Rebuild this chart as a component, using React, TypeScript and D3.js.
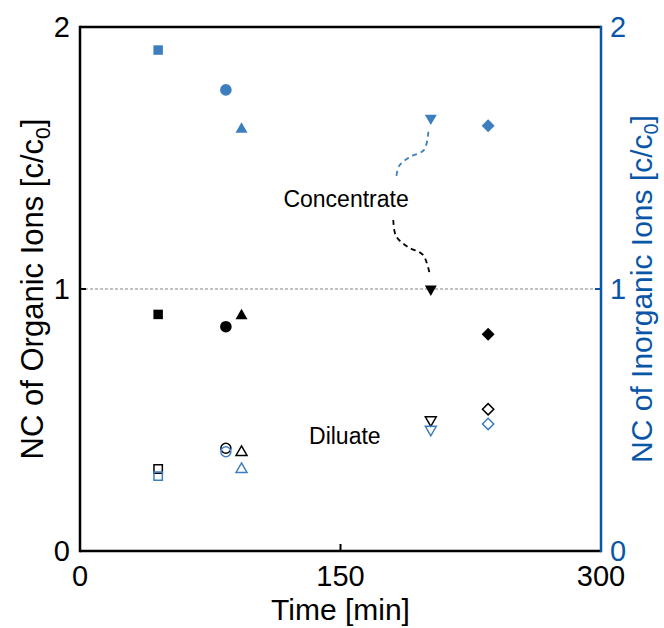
import React from 'react';
import * as d3 from 'd3';

// sampling times [min] and the marker used for each time
const times = [45, 84, 93, 202, 235];
const shapes = ['square', 'circle', 'triangleUp', 'triangleDown', 'diamond'];

// normalised concentrations c/c0
const concInorganic = [1.912, 1.76, 1.61, 1.652, 1.623];
const concOrganic = [0.903, 0.856, 0.898, 1.0, 0.827];
const dilOrganic = [0.313, 0.392, 0.377, 0.5, 0.541];
const dilInorganic = [0.286, 0.379, 0.312, 0.464, 0.485];

const xTicks = [0, 150, 300];
const yTicks = [0, 1, 2];

// annotation arrows, in data units [time, c/c0]
const blueArrow = [[200.6, 1.6], [198.1, 1.531], [190.0, 1.504], [183.7, 1.469], [182.0, 1.419]];
const blackArrow = [[180.4, 1.263], [182.0, 1.202], [188.9, 1.16], [197.5, 1.13], [201.5, 1.053]];

const FONT = '"Liberation Sans", Arial, Helvetica, sans-serif';
const BLUE = '#3d7ebf';
const AXIS_BLUE = '#0a56a6';

function symbolPath(shape: string, filled: boolean) {
  const s = filled
    ? { square: 90, circle: 106, triangleUp: 62, triangleDown: 62, diamond: 84 }
    : { square: 70, circle: 78, triangleUp: 52, triangleDown: 52, diamond: 64 };
  let type: any = d3.symbolSquare;
  if (shape === 'circle') type = d3.symbolCircle;
  if (shape === 'triangleUp' || shape === 'triangleDown') type = d3.symbolTriangle;
  return d3.symbol().type(type).size((s as any)[shape])() as string;
}

function rotation(shape: string) {
  if (shape === 'triangleDown') return 180;
  if (shape === 'diamond') return 45;
  return 0;
}

export default function App() {
  const margin = { top: 27, right: 63, bottom: 77, left: 80 };
  const width = 664;
  const height = 628;

  const x = d3.scaleLinear().domain([0, 300]).range([margin.left, width - margin.right]);
  const y = d3.scaleLinear().domain([0, 2]).range([height - margin.bottom, margin.top]);
  const yRight = d3.scaleLinear().domain([0, 2]).range([height - margin.bottom, margin.top]);

  const line = d3
    .line<number[]>()
    .x(d => x(d[0]))
    .y(d => y(d[1]))
    .curve(d3.curveCatmullRom);

  const x0 = x.range()[0];
  const x1 = x.range()[1];
  const y0 = y.range()[0];
  const y1 = y.range()[1];

  const markers = (values: number[], scale: any, color: string, filled: boolean, key: string) =>
    values.map((v, i) => (
      <path
        key={key + i}
        d={symbolPath(shapes[i], filled)}
        transform={'translate(' + x(times[i]) + ',' + scale(v) + ') rotate(' + rotation(shapes[i]) + ')'}
        fill={filled ? color : 'none'}
        stroke={color}
        strokeWidth={filled ? 0 : 1.5}
      />
    ));

  return (
    <svg width={width} height={height} style={{ position: 'absolute', left: 0, top: 0 }} fontFamily={FONT}>
      <rect width={width} height={height} fill="#fff" />

      {/* reference line at c/c0 = 1 */}
      <line x1={x0} x2={x1} y1={y(1)} y2={y(1)} stroke="#666" strokeWidth={0.8} strokeDasharray="3,2" />

      {/* annotation arrows */}
      <path d={line(blueArrow) as string} fill="none" stroke={BLUE} strokeWidth={1.8} strokeDasharray="5,4" />
      <path d={line(blackArrow) as string} fill="none" stroke="#000" strokeWidth={1.8} strokeDasharray="5,4" />

      <text x={x(153.2)} y={y(1.314)} fontSize={23} textAnchor="middle">Concentrate</text>
      <text x={x(152.5)} y={y(0.41)} fontSize={23} textAnchor="middle">Diluate</text>

      {markers(concInorganic, yRight, BLUE, true, 'ci')}
      {markers(concOrganic, y, '#000', true, 'co')}
      {markers(dilOrganic, y, '#000', false, 'do')}
      {markers(dilInorganic, yRight, BLUE, false, 'di')}

      {/* frame */}
      <line x1={x0} x2={x1} y1={y1} y2={y1} stroke="#000" strokeWidth={2.5} />
      <line x1={x0} x2={x1} y1={y0} y2={y0} stroke="#000" strokeWidth={2.5} />
      <line x1={x0} x2={x0} y1={y1 - 1.25} y2={y0 + 1.25} stroke="#000" strokeWidth={2.5} />
      <line x1={x1} x2={x1} y1={y1 - 1.25} y2={y0 + 1.25} stroke={AXIS_BLUE} strokeWidth={2.5} />

      {/* ticks */}
      {xTicks.slice(1, -1).map(t => (
        <line key={'xt' + t} x1={x(t)} x2={x(t)} y1={y0} y2={y0 - 7} stroke="#000" strokeWidth={2} />
      ))}
      {yTicks.slice(1, -1).map(t => (
        <g key={'yt' + t}>
          <line x1={x0} x2={x0 + 6} y1={y(t)} y2={y(t)} stroke="#000" strokeWidth={2} />
          <line x1={x1} x2={x1 - 6} y1={yRight(t)} y2={yRight(t)} stroke={AXIS_BLUE} strokeWidth={2} />
        </g>
      ))}

      {/* tick labels */}
      {xTicks.map(t => (
        <text key={'xl' + t} x={x(t)} y={y0 + 35} fontSize={29} textAnchor="middle">{t}</text>
      ))}
      {yTicks.map(t => (
        <text key={'yl' + t} x={x0 - 10} y={y(t)} dy="0.36em" fontSize={29} textAnchor="end">{t}</text>
      ))}
      {yTicks.map(t => (
        <text key={'yr' + t} x={x1 + 9} y={yRight(t)} dy="0.36em" fontSize={29} textAnchor="start" fill={AXIS_BLUE}>{t}</text>
      ))}

      {/* axis titles */}
      <text x={x(150)} y={620} fontSize={30} textAnchor="middle">Time [min]</text>
      <text transform={'translate(43,' + y(1) + ') rotate(-90)'} fontSize={31} textAnchor="middle">
        NC of Organic Ions [c/c<tspan fontSize={21} dy={7}>0</tspan><tspan dy={-7}>]</tspan>
      </text>
      <text transform={'translate(652,' + yRight(1) + ') rotate(-90)'} fontSize={30} textAnchor="middle" fill={AXIS_BLUE}>
        NC of Inorganic Ions [c/c<tspan fontSize={20} dy={6}>0</tspan><tspan dy={-6}>]</tspan>
      </text>
    </svg>
  );
}
